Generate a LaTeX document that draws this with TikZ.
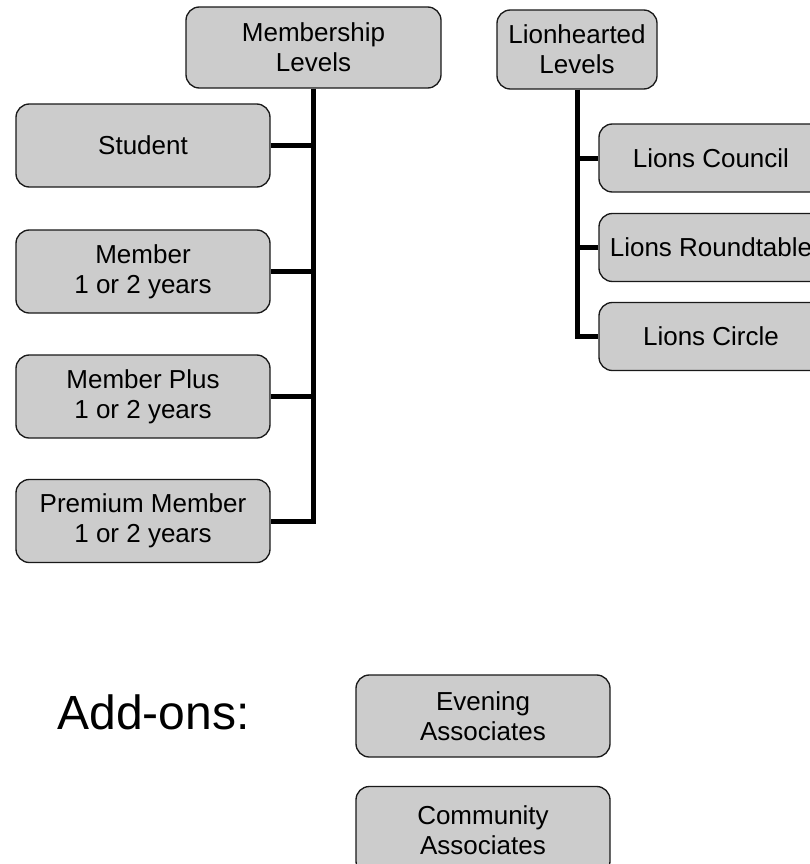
\documentclass[tikz,border=0pt]{standalone}
\usepackage{fontspec}
\setmainfont{Liberation Sans}
\usepackage{tikz}
\usepackage{xcolor}
\usetikzlibrary{shapes, arrows, positioning}

\begin{document}
\begin{tikzpicture}[x=0.75pt, y=-0.75pt, line width=1pt,
        level/.style={rectangle, rounded corners=10pt, draw=black!90, fill=black!20, inner sep=0pt, align=center, font=\fontsize{19.5}{22.5}\selectfont, minimum width=190.5pt, minimum height=62.25pt},
        lion/.style={level, minimum width=168pt, minimum height=51pt},
        link/.style={-, line width=3.75pt}]
        \useasboundingbox (0, 0) rectangle (810, 864);
        \node [level, minimum width=191.25pt, minimum height=60.75pt] (membership) at (313.5, 47.5) {Membership\\Levels};
        \node [level] (student) at (143, 145.5) {Student};
        \node [level] (member) at (143, 271.5) {Member\\1 or 2 years};
        \node [level] (memberplus) at (143, 396.5) {Member Plus\\1 or 2 years};
        \node [level] (premium) at (143, 521) {Premium Member\\1 or 2 years};
        \node [level, minimum width=120pt, minimum height=59.25pt] (lionhearted) at (577, 49.5) {Lionhearted\\Levels};
        \node [lion] (council) at (711, 158) {Lions Council};
        \node [lion] (roundtable) at (711, 247.5) {Lions Roundtable};
        \node [lion] (circle) at (711, 336.5) {Lions Circle};
        \node [inner sep=0pt, font=\fontsize{36}{40}\selectfont] (addons) at (153.5, 712.5) {Add-ons:};
        \node [level, minimum height=61.5pt] (evening) at (483, 716) {Evening\\Associates};
        \node [level, minimum height=66pt] (community) at (483, 830.5) {Community\\Associates};
        \draw [link] (membership.south) |- (premium.east);
        \draw [link] (student.east) -- (student.east -| membership.south);
        \draw [link] (member.east) -- (member.east -| membership.south);
        \draw [link] (memberplus.east) -- (memberplus.east -| membership.south);
        \draw [link] (lionhearted.south) |- (circle.west);
        \draw [link] (council.west) -- (council.west -| lionhearted.south);
        \draw [link] (roundtable.west) -- (roundtable.west -| lionhearted.south);
    \end{tikzpicture}
\end{document}
